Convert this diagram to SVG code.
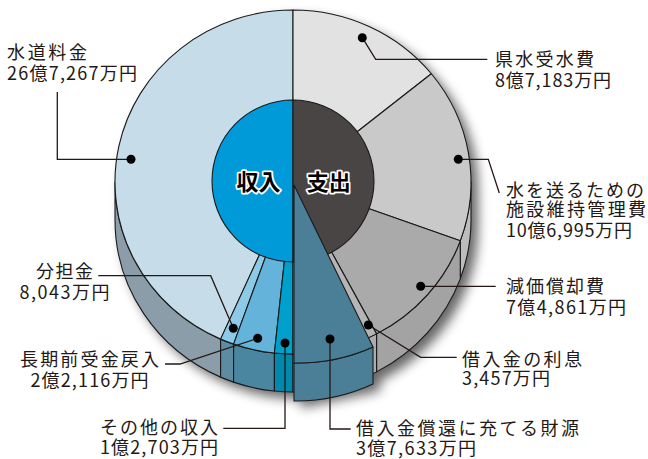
<svg xmlns="http://www.w3.org/2000/svg" width="648" height="459" viewBox="0 0 648 459">
<defs>
<filter id="sh" x="-20%" y="-20%" width="140%" height="140%"><feGaussianBlur stdDeviation="6"/></filter>
</defs>
<style>
.e{stroke:#1a1a1a;stroke-width:1.1;stroke-linejoin:round}
.t{font-family:"Noto Sans CJK JP","Noto Sans",sans-serif;font-size:18px;fill:#231815}
.m{text-anchor:middle}
.c{fill:none;stroke:#231815;stroke-width:1.3}
.d{fill:#000}
.h{font-family:"Noto Sans CJK JP",sans-serif;font-size:22px;font-weight:bold;fill:#000;stroke:#fff;stroke-width:3.5;paint-order:stroke;stroke-linejoin:round;text-anchor:middle}
</style>
<rect width="648" height="459" fill="#fff"/>
<g id="shadow" filter="url(#sh)" opacity="0.6" fill="#000">
<path d="M115,182 A178 172 0 0 1 471,182 L471,220 A178 172 0 0 1 115,220 Z" transform="translate(7,7)"/>
<path d="M294,363 L373,347 L373,384 L294,401Z" transform="translate(7,7)"/>
</g>

<g id="suidou">
<path class="e" fill="#8b9da8" d="M115,182 A178 172 0 0 0 220.6,339.13 L220.6,377.13 A178 172 0 0 1 115,220 Z"/>
<path class="e" fill="#c6dde9" d="M293,182 L293,10 A178 172 0 0 0 220.6,339.13 Z"/>
<text class="t"><tspan x="7" y="59" textLength="80">水道料金</tspan><tspan x="7" y="80" textLength="130">26億7,267万円</tspan></text>
</g>
<g id="buntan">
<path class="e" fill="#5d8ca2" d="M220.6,339.13 A178 172 0 0 0 233.58,344.13 L233.58,382.13 A178 172 0 0 1 220.6,377.13 Z"/>
<path class="e" fill="#8dcae8" d="M293,182 L220.6,339.13 A178 172 0 0 0 233.58,344.13 Z"/>
<text class="t m"><tspan x="64.5" y="277.5" textLength="57">分担金</tspan><tspan x="64.5" y="298.5" textLength="90">8,043万円</tspan></text>
</g>
<g id="chouki">
<path class="e" fill="#4b86a1" d="M233.58,344.13 A178 172 0 0 0 274.39,353.06 L274.39,391.06 A178 172 0 0 1 233.58,382.13 Z"/>
<path class="e" fill="#63b3da" d="M293,182 L233.58,344.13 A178 172 0 0 0 274.39,353.06 Z"/>
<text class="t m"><tspan x="89.5" y="366" textLength="139">長期前受金戻入</tspan><tspan x="89.5" y="387" textLength="118">2億2,116万円</tspan></text>
</g>
<g id="sonota">
<path class="e" fill="#0089ad" d="M274.39,353.06 A178 172 0 0 0 293,354 L293,392 A178 172 0 0 1 274.39,391.06 Z"/>
<path class="e" fill="#00a0cc" d="M293,182 L274.39,353.06 A178 172 0 0 0 293,354 Z"/>
<text class="t"><tspan x="100" y="434" textLength="118">その他の収入</tspan><tspan x="100" y="454" textLength="118">1億2,703万円</tspan></text>
</g>

<g id="kensui">
<path class="e" fill="#e2e2e2" d="M293,182 L293,10 A178 172 0 0 1 431.33,73.76 Z"/>
<text class="t"><tspan x="495" y="65.5" textLength="99">県水受水費</tspan><tspan x="495" y="87" textLength="116">8億7,183万円</tspan></text>
</g>
<g id="shisetsu">
<path class="e" fill="#bdbdbd" d="M471,182 A178 172 0 0 1 460.26,240.83 L460.26,278.83 A178 172 0 0 0 471,220 Z"/>
<path class="e" fill="#c9c9c9" d="M293,182 L431.33,73.76 A178 172 0 0 1 460.26,240.83 Z"/>
<text class="t"><tspan x="506" y="197" textLength="138">水を送るための</tspan><tspan x="506" y="215.5" textLength="140">施設維持管理費</tspan><tspan x="506" y="237" textLength="126">10億6,995万円</tspan></text>
</g>
<g id="genka">
<path class="e" fill="#a3a3a3" d="M460.26,240.83 A178 172 0 0 1 376.57,333.87 L376.57,371.87 A178 172 0 0 0 460.26,278.83 Z"/>
<path class="e" fill="#aaaaaa" d="M293,182 L460.26,240.83 A178 172 0 0 1 376.57,333.87 Z"/>
<text class="t"><tspan x="506" y="293" textLength="98">減価償却費</tspan><tspan x="506" y="313.5" textLength="120">7億4,861万円</tspan></text>
</g>
<g id="risoku">
<path class="e" fill="#acacac" d="M376.57,333.87 A178 172 0 0 1 293,354 L293,392 A178 172 0 0 0 376.57,371.87 Z"/>
<path class="e" fill="#b5b5b5" d="M293,182 L376.57,333.87 A178 172 0 0 1 293,354 Z"/>
<text class="t"><tspan x="462" y="366" textLength="120">借入金の利息</tspan><tspan x="462" y="385" textLength="88">3,457万円</tspan></text>
</g>

<g id="shunyu">
<path class="e" fill="#009ad9" d="M293,100 A81 81 0 0 0 293,262 Z"/>
<text class="h" x="258.5" y="190">収入</text>
</g>
<g id="shishutsu">
<path class="e" fill="#4a4545" d="M293,100 A81 81 0 0 1 293,262 Z"/>
</g>

<g id="shoukan">
<path class="e" fill="#4b7f97" d="M294,363 A178 172 0 0 0 373,347 L373,384 A178 172 0 0 1 294,401 Z"/>
<path class="e" fill="#4b7f97" d="M294,185 L294,363 A178 172 0 0 0 373,347 Z"/>
<text class="t"><tspan x="356" y="434.5" textLength="223">借入金償還に充てる財源</tspan><tspan x="356" y="454.5" textLength="120">3億7,633万円</tspan></text>
</g>
<g id="shishutsu-label">
<text class="h" x="328.7" y="190">支出</text>
</g>

<g id="connectors">
<path class="c" d="M131,159.3 L57.3,159.3 L57.3,92"/>
<path class="c" d="M362.3,37.7 L375.7,59.3 L487.3,59.3"/>
<path class="c" d="M458.3,159.3 L488.3,159.3 L499.3,193"/>
<path class="c" d="M420.7,286.3 L495.7,286.3"/>
<path class="c" d="M368.3,325 L420.7,357.3 L456.7,357.3"/>
<path class="c" d="M330,339 L330,429 L350.7,429"/>
<path class="c" d="M285,343 L285,428.3 L223.3,428.3"/>
<path class="c" d="M257.7,338.3 L180,364 L165,364"/>
<path class="c" d="M233.3,328.3 L210.7,275.7 L98.3,275.7"/>
<circle class="d" cx="131" cy="159.3" r="4.5"/>
<circle class="d" cx="362.3" cy="37.7" r="4.5"/>
<circle class="d" cx="458.3" cy="159.3" r="4.5"/>
<circle class="d" cx="420.7" cy="286.3" r="4.5"/>
<circle class="d" cx="368.3" cy="325" r="4.5"/>
<circle class="d" cx="330" cy="339" r="4.5"/>
<circle class="d" cx="285" cy="343" r="4.5"/>
<circle class="d" cx="257.7" cy="338.3" r="4.5"/>
<circle class="d" cx="233.3" cy="328.3" r="4.5"/>
</g>
</svg>
